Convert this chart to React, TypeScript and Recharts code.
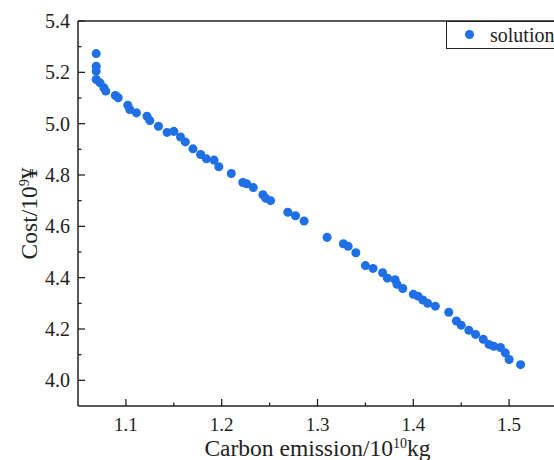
import {
  ScatterChart,
  Scatter,
  XAxis,
  YAxis,
  ReferenceLine,
  Legend,
} from 'recharts';

// values
const emission = [
  1.069, 1.069, 1.069, 1.069, 1.073, 1.077, 1.079, 1.089, 1.092, 1.102,
  1.104, 1.111, 1.122, 1.125, 1.134, 1.143, 1.15, 1.157, 1.162, 1.17,
  1.178, 1.184, 1.192, 1.197, 1.21, 1.222, 1.226, 1.233, 1.243, 1.246,
  1.251, 1.269, 1.277, 1.286, 1.31, 1.327, 1.332, 1.34, 1.35, 1.358,
  1.368, 1.373, 1.381, 1.383, 1.389, 1.4, 1.405, 1.41, 1.415, 1.423,
  1.437, 1.445, 1.45, 1.458, 1.465, 1.473, 1.479, 1.484, 1.491, 1.496,
  1.5, 1.512,
];
const cost = [
  5.273, 5.224, 5.205, 5.172, 5.159, 5.14, 5.127, 5.11, 5.101, 5.072,
  5.055, 5.042, 5.029, 5.012, 4.99, 4.966, 4.97, 4.948, 4.929, 4.902,
  4.88, 4.863, 4.858, 4.832, 4.806, 4.771, 4.766, 4.751, 4.723, 4.709,
  4.7, 4.655, 4.641, 4.621, 4.557, 4.532, 4.522, 4.497, 4.447, 4.436,
  4.419, 4.398, 4.392, 4.374, 4.358, 4.335, 4.328, 4.313, 4.3, 4.289,
  4.265, 4.231, 4.215, 4.195, 4.179, 4.16, 4.14, 4.133, 4.128, 4.107,
  4.081, 4.061,
];

const xTicks = [1.1, 1.15, 1.2, 1.25, 1.3, 1.35, 1.4, 1.45, 1.5];
const yTicks = [4.0, 4.1, 4.2, 4.3, 4.4, 4.5, 4.6, 4.7, 4.8, 4.9, 5.0, 5.1, 5.2, 5.3, 5.4];

const FONT = '"Liberation Serif", "Times New Roman", serif';
const INK = '#222';
const DOT = '#1f6fe6';

const points = emission.map((x, i) => ({ x, y: cost[i] }));

function isMajor(v: number, step: number) {
  const r = v / step;
  return Math.abs(r - Math.round(r)) < 1e-6;
}

function XTick(props: any) {
  const { x, y, payload } = props;
  const v = payload.value as number;
  const major = isMajor(v, 0.1);
  return (
    <g>
      <line x1={x} x2={x} y1={y} y2={y - (major ? 7 : 3.5)} stroke={INK} strokeWidth={1.3} />
      {major && (
        <text x={x} y={y + 25} textAnchor="middle" fontFamily={FONT} fontSize={19} fill={INK}>
          {v.toFixed(1)}
        </text>
      )}
    </g>
  );
}

function YTick(props: any) {
  const { x, y, payload } = props;
  const v = payload.value as number;
  const major = isMajor(v, 0.2);
  return (
    <g>
      <line x1={x} x2={x + (major ? 7 : 3.5)} y1={y} y2={y} stroke={INK} strokeWidth={1.3} />
      {major && (
        <text x={x - 8} y={y} dy="0.35em" textAnchor="end" fontFamily={FONT} fontSize={20} fill={INK}>
          {v.toFixed(1)}
        </text>
      )}
    </g>
  );
}

function XTitle(props: any) {
  const vb = props.viewBox;
  return (
    <text x={vb.x + vb.width / 2} y={vb.y + 50} textAnchor="middle" fontFamily={FONT} fontSize={23.5} fill={INK}>
      Carbon emission/10
      <tspan dy={-8} fontSize={14}>10</tspan>
      <tspan dy={8}>kg</tspan>
    </text>
  );
}

function YTitle(props: any) {
  const vb = props.viewBox;
  const cx = vb.x + 37;
  const cy = vb.y + vb.height / 2;
  return (
    <text
      x={cx}
      y={cy}
      textAnchor="middle"
      transform={`rotate(-90 ${cx} ${cy})`}
      fontFamily={FONT}
      fontSize={23.5}
      fill={INK}
    >
      Cost/10
      <tspan dy={-8} fontSize={14}>9</tspan>
      <tspan dy={8}>¥</tspan>
    </text>
  );
}

function LegendBox() {
  return (
    <div
      style={{
        position: 'relative',
        width: 111,
        height: 28,
        boxSizing: 'border-box',
        border: `1.3px solid ${INK}`,
        background: '#fff',
        fontFamily: FONT,
        fontSize: 20,
        lineHeight: '26px',
        color: INK,
      }}
    >
      <span
        style={{
          position: 'absolute',
          left: 18,
          top: 8,
          width: 9,
          height: 9,
          borderRadius: '50%',
          background: DOT,
        }}
      />
      <span style={{ position: 'absolute', left: 43, top: 0, whiteSpace: 'nowrap' }}>solution</span>
    </div>
  );
}

export default function App() {
  return (
    <div
      style={{
        position: 'absolute',
        left: 0,
        top: 0,
        width: 554,
        height: 460,
        overflow: 'hidden',
        background: '#fff',
      }}
    >
      <ScatterChart width={600} height={460} margin={{ top: 21, right: 43, left: 0, bottom: 0 }}>
        <XAxis
          type="number"
          dataKey="x"
          domain={[1.05, 1.55]}
          ticks={xTicks}
          interval={0}
          allowDataOverflow
          height={54}
          tickSize={0}
          tickMargin={0}
          tickLine={false}
          axisLine={{ stroke: INK, strokeWidth: 1.5 }}
          tick={<XTick />}
          label={{ content: <XTitle /> }}
        />
        <YAxis
          type="number"
          dataKey="y"
          domain={[3.9, 5.4]}
          ticks={yTicks}
          interval={0}
          allowDataOverflow
          width={78}
          tickSize={0}
          tickMargin={0}
          tickLine={false}
          axisLine={{ stroke: INK, strokeWidth: 1.5 }}
          tick={<YTick />}
          label={{ content: <YTitle /> }}
        />
        <ReferenceLine y={5.4} stroke={INK} strokeWidth={1.5} />
        <ReferenceLine x={1.55} stroke={INK} strokeWidth={1.5} />
        <Legend
          layout="vertical"
          align="center"
          verticalAlign="middle"
          content={<LegendBox />}
          wrapperStyle={{ top: 21, left: 446, width: 111 }}
        />
        <Scatter name="solution" data={points} fill={DOT} shape="circle" isAnimationActive={false} />
      </ScatterChart>
    </div>
  );
}
